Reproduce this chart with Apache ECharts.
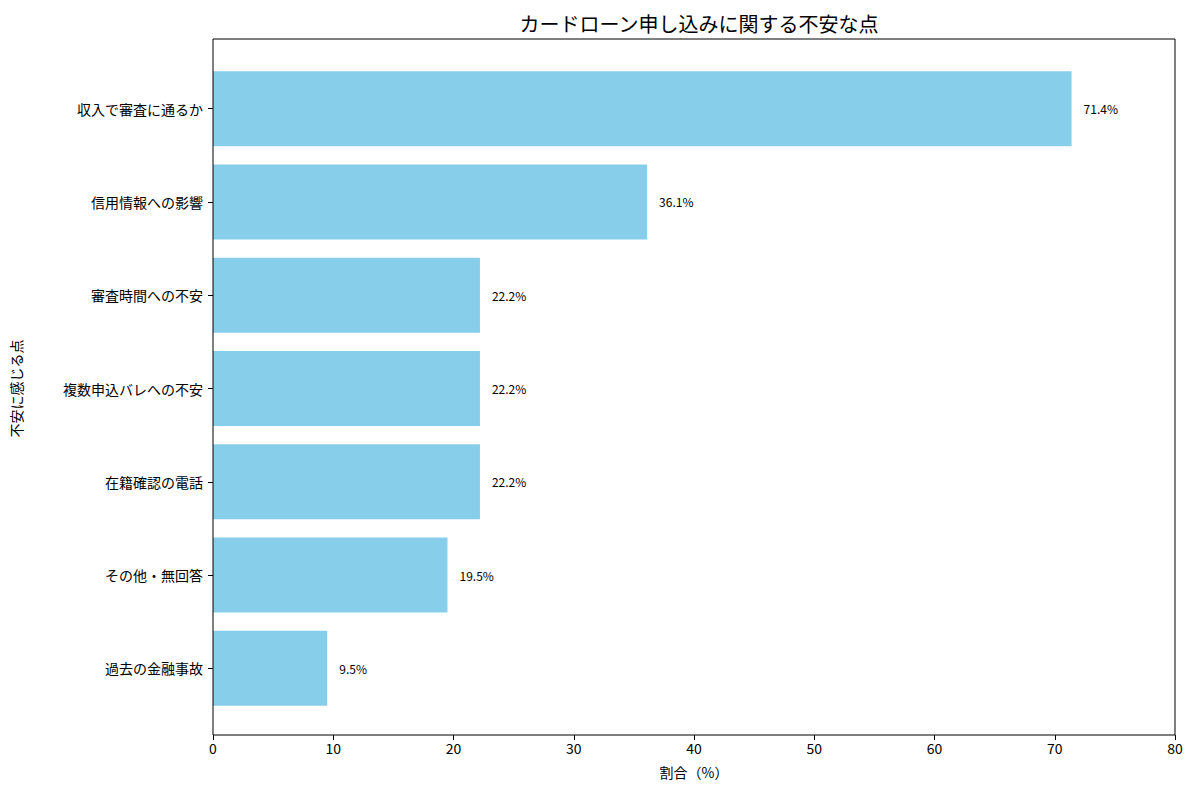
<!DOCTYPE html>
<html><head><meta charset="utf-8">
<script src="https://cdn.jsdelivr.net/npm/echarts@6/dist/echarts.min.js"></script>
<style>body{margin:0}#chart{width:1200px;height:800px}</style>
</head><body><div id="chart"></div>
<script>
var categories = ['収入で審査に通るか', '信用情報への影響', '審査時間への不安', '複数申込バレへの不安', '在籍確認の電話', 'その他・無回答', '過去の金融事故'];
var values = [71.4, 36.1, 22.2, 22.2, 22.2, 19.5, 9.5];
var xTicks = [0, 10, 20, 30, 40, 50, 60, 70, 80];

var font = '"Noto Sans CJK JP", "Noto Sans", sans-serif';
var chart = echarts.init(document.getElementById('chart'), null, { renderer: 'svg' });
chart.setOption({
  animation: false,
  textStyle: { fontFamily: font },
  title: {
    text: 'カードローン申し込みに関する不安な点',
    left: 694, top: 8, textAlign: 'center',
    textStyle: { fontSize: 20, fontWeight: 'normal', color: '#000', fontFamily: font }
  },
  grid: { left: 213, right: 25, top: 62, bottom: 85 },
  graphic: [{
    type: 'rect', shape: { x: 213, y: 39, width: 962, height: 696 },
    style: { fill: 'none', stroke: '#000', lineWidth: 1 }, silent: true, z: 10
  }],
  xAxis: {
    type: 'value', min: xTicks[0], max: xTicks[xTicks.length - 1], interval: 10,
    offset: 20,
    name: '割合（%）', nameLocation: 'middle', nameGap: 30,
    nameTextStyle: { fontSize: 14, color: '#000' },
    axisLine: { show: false },
    axisTick: { show: true, length: 5, lineStyle: { color: '#000' } },
    axisLabel: { fontSize: 14, color: '#000', margin: 6 },
    splitLine: { show: false }
  },
  yAxis: {
    type: 'category', data: categories, inverse: true,
    name: '不安に感じる点', nameLocation: 'middle', nameGap: 190, nameRotate: 90,
    nameTextStyle: { fontSize: 14, color: '#000' },
    axisLine: { show: false },
    axisTick: { show: true, alignWithLabel: true, length: 5, lineStyle: { color: '#000' } },
    axisLabel: { fontSize: 14, color: '#000', margin: 10 }
  },
  series: [{
    type: 'bar', data: values, barWidth: 75,
    itemStyle: { color: '#87CEEB' },
    label: {
      show: true, position: 'right', distance: 12, fontSize: 12, color: '#000',
      formatter: function(p) { return p.value.toFixed(1) + '%'; }
    }
  }]
});
</script></body></html>
